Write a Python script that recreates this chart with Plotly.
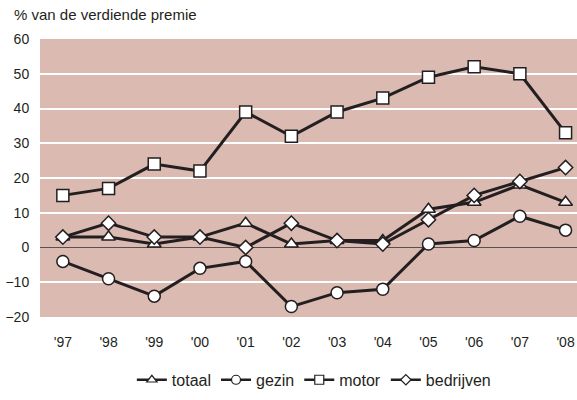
import plotly.graph_objects as go

jaren = ["'97", "'98", "'99", "'00", "'01", "'02", "'03", "'04", "'05", "'06", "'07", "'08"]
totaal = [3, 3, 1, 3, 7, 1, 2, 2, 11, 13, 18, 13]
gezin = [-4, -9, -14, -6, -4, -17, -13, -12, 1, 2, 9, 5]
motor = [15, 17, 24, 22, 39, 32, 39, 43, 49, 52, 50, 33]
bedrijven = [3, 7, 3, 3, 0, 7, 2, 1, 8, 15, 19, 23]

donker = "#231f20"
x = list(range(len(jaren)))

reeksen = [
    ("totaal", totaal, "triangle-up", 12),
    ("gezin", gezin, "circle", 12),
    ("motor", motor, "square", 12),
    ("bedrijven", bedrijven, "diamond", 11),
]

fig = go.Figure()
for naam, waarden, sym, size in reeksen:
    fig.add_trace(go.Scatter(
        x=x, y=waarden, name=naam, mode="lines+markers", showlegend=False,
        line=dict(color=donker, width=3),
        marker=dict(symbol=sym, size=size, color="white",
                    line=dict(color=donker, width=1.5)),
    ))
# smaller symbols for the legend only
for naam, waarden, sym, size in reeksen:
    fig.add_trace(go.Scatter(
        x=[None], y=[None], name=naam, mode="lines+markers",
        line=dict(color=donker, width=2.5),
        marker=dict(symbol=sym, size=size - 3, color="white",
                    line=dict(color=donker, width=1.2)),
    ))

fig.update_layout(
    width=577, height=400,
    margin=dict(l=40, r=0, t=39, b=83, autoexpand=False),
    paper_bgcolor="white", plot_bgcolor="#dbbab2",
    font=dict(family="Liberation Sans, Arial, sans-serif", size=14, color="#231f20"),
    legend=dict(orientation="h", x=0.51, xanchor="center", y=-0.165, yanchor="top",
                font=dict(size=16), itemwidth=30, traceorder="normal", tracegroupgap=0),
    annotations=[dict(text="% van de verdiende premie", x=0, y=1, xref="paper", yref="paper",
                      xshift=-28, yshift=14, xanchor="left", yanchor="bottom",
                      showarrow=False, font=dict(size=15))],
)
fig.update_xaxes(range=[-0.5, 11.25], tickvals=x, ticktext=jaren, showgrid=False,
                 zeroline=False, ticks="outside", ticklen=12, tickcolor="rgba(0,0,0,0)",
                 showline=False)
fig.update_yaxes(range=[-20, 60], dtick=10, gridcolor="white", gridwidth=1.5,
                 zeroline=True, zerolinecolor="#5a4f4f", zerolinewidth=1,
                 ticks="outside", ticklen=7, tickcolor="rgba(0,0,0,0)")

fig.write_html("out.html", config={"displayModeBar": False},
               post_script="document.body.style.margin='0';")
